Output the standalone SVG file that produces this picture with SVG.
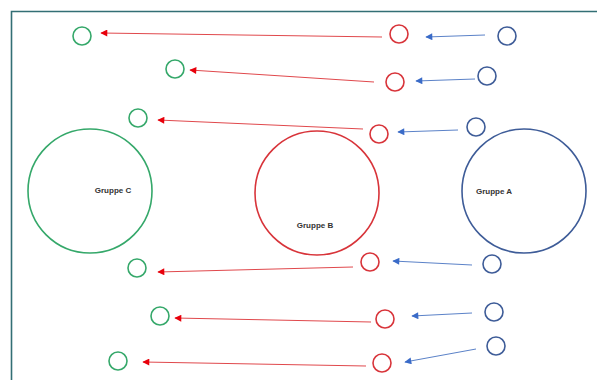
<svg xmlns="http://www.w3.org/2000/svg" width="597" height="380" viewBox="0 0 597 380">
<style>
.g{fill:none;stroke:#35a86a;stroke-width:1.6}
.r{fill:none;stroke:#d8343a;stroke-width:1.6}
.b{fill:none;stroke:#3e5c98;stroke-width:1.6}
.ra{stroke:#e0484c;stroke-width:1;fill:none;marker-end:url(#mr)}
.ba{stroke:#5b82c8;stroke-width:1;fill:none;marker-end:url(#mb)}
.t{font-family:"Liberation Sans",Arial,sans-serif;font-weight:bold;font-size:8px;fill:#333;text-anchor:middle}
</style>
<defs>
<marker id="mr" viewBox="0 0 10 10" refX="9" refY="5" markerWidth="9" markerHeight="7" markerUnits="userSpaceOnUse" orient="auto"><path d="M0,0 L10,5 L0,10 z" fill="#e8000b"/></marker>
<marker id="mb" viewBox="0 0 10 10" refX="9" refY="5" markerWidth="9" markerHeight="7" markerUnits="userSpaceOnUse" orient="auto"><path d="M0,0 L10,5 L0,10 z" fill="#3a6bc8"/></marker>
</defs>
<rect width="597" height="380" fill="#fff"/>
<path d="M11.5,380 V11.5 H597" fill="none" stroke="#336f75" stroke-width="1.6"/>
<g id="connectors">
<line class="ra" x1="382" y1="37" x2="101" y2="33"/>
<line class="ra" x1="374" y1="82" x2="190" y2="70"/>
<line class="ra" x1="363" y1="129" x2="158" y2="120"/>
<line class="ra" x1="353" y1="267" x2="158" y2="272"/>
<line class="ra" x1="371" y1="322" x2="175" y2="318"/>
<line class="ra" x1="366" y1="366" x2="143" y2="362"/>
<line class="ba" x1="485" y1="35" x2="426" y2="37"/>
<line class="ba" x1="475" y1="79" x2="416" y2="81"/>
<line class="ba" x1="458" y1="130" x2="398" y2="132"/>
<line class="ba" x1="472" y1="265" x2="393" y2="261"/>
<line class="ba" x1="472" y1="313" x2="412" y2="316"/>
<line class="ba" x1="476" y1="349" x2="405" y2="362"/>
</g>
<g id="gruppe-c"><circle class="g" cx="90" cy="191" r="62"/><text class="t" x="113" y="193">Gruppe C</text></g>
<g id="gruppe-b"><circle class="r" cx="317" cy="193" r="62"/><text class="t" x="315" y="228">Gruppe B</text></g>
<g id="gruppe-a"><circle class="b" cx="524" cy="191" r="62"/><text class="t" x="494" y="194">Gruppe A</text></g>
<g id="c1"><circle class="g" cx="82" cy="36" r="9"/></g>
<g id="c2"><circle class="g" cx="175" cy="69" r="9"/></g>
<g id="c3"><circle class="g" cx="138" cy="118" r="9"/></g>
<g id="c4"><circle class="g" cx="137" cy="268" r="9"/></g>
<g id="c5"><circle class="g" cx="160" cy="316" r="9"/></g>
<g id="c6"><circle class="g" cx="118" cy="361" r="9"/></g>
<g id="b1"><circle class="r" cx="399" cy="34" r="9"/></g>
<g id="b2"><circle class="r" cx="395" cy="82" r="9"/></g>
<g id="b3"><circle class="r" cx="379" cy="134" r="9"/></g>
<g id="b4"><circle class="r" cx="370" cy="262" r="9"/></g>
<g id="b5"><circle class="r" cx="385" cy="319" r="9"/></g>
<g id="b6"><circle class="r" cx="382" cy="363" r="9"/></g>
<g id="a1"><circle class="b" cx="507" cy="36" r="9"/></g>
<g id="a2"><circle class="b" cx="487" cy="76" r="9"/></g>
<g id="a3"><circle class="b" cx="476" cy="127" r="9"/></g>
<g id="a4"><circle class="b" cx="492" cy="264" r="9"/></g>
<g id="a5"><circle class="b" cx="494" cy="312" r="9"/></g>
<g id="a6"><circle class="b" cx="496" cy="346" r="9"/></g>
</svg>
